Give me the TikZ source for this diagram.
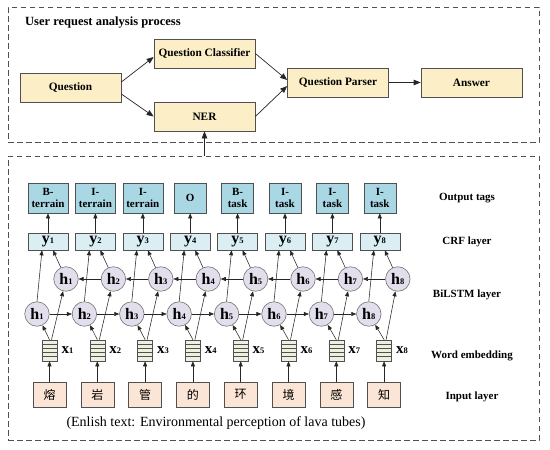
\documentclass[tikz,border=0pt]{standalone}
\usepackage{fontspec}
\setmainfont{Liberation Serif}
\newfontfamily\cjk{Noto Sans CJK SC}
\usetikzlibrary{arrows.meta}
\definecolor{procyellow}{HTML}{FCEFC7}
\definecolor{tagblue}{HTML}{A9D7E3}
\definecolor{ylight}{HTML}{DAEEF3}
\definecolor{hpurple}{HTML}{E2DEEC}
\definecolor{stgreen}{HTML}{EBF1DE}
\definecolor{peach}{HTML}{FBE5D6}
\definecolor{edge}{HTML}{505050}
\begin{document}
\begin{tikzpicture}[x=1pt,y=-1pt,
  frame/.style={draw=edge, dash pattern=on 5.5pt off 3.5pt, line width=0.8pt, minimum width=531pt, inner sep=0pt},
  procbox/.style={draw=edge, fill=procyellow, minimum width=101pt, minimum height=29pt, inner sep=0pt,
    font=\fontsize{11.3}{13}\selectfont\bfseries, line width=0.7pt},
  bigarr/.style={-{Triangle[length=7pt,width=5.5pt]}, line width=0.7pt, draw=black!85},
  arr/.style={-{Triangle[length=5pt,width=4pt]}, line width=0.55pt, draw=black!85},
  tagbox/.style={draw=edge, fill=tagblue, minimum height=30pt, inner sep=0pt, align=center,
    font=\fontsize{11}{12.7}\selectfont\bfseries, line width=0.6pt},
  ybox/.style={draw=edge, fill=ylight, minimum width=40pt, minimum height=17pt, inner sep=0pt,
    font=\fontsize{16}{16}\selectfont\bfseries, line width=0.6pt},
  hnode/.style={circle, draw=black!55, fill=hpurple, minimum size=24.5pt, inner sep=0pt,
    font=\fontsize{16}{16}\selectfont\bfseries, line width=0.6pt},
  stackbox/.style={draw=edge, fill=stgreen, minimum width=15pt, minimum height=21pt, inner sep=0pt, line width=0.6pt},
  inbox/.style={draw=edge, fill=peach, minimum width=33pt, minimum height=25pt, inner sep=0pt,
    font=\cjk\fontsize{12}{12}\selectfont, line width=0.6pt},
  xlab/.style={font=\fontsize{15}{15}\selectfont\bfseries, inner sep=0pt, anchor=west},
  lab/.style={font=\fontsize{11}{13}\selectfont\bfseries}
]
\useasboundingbox (0,0) rectangle (550,450);
\fill[white] (0,0) rectangle (550,450);

% frames
\node[frame, minimum height=135pt] (topframe) at (273.5,74.5) {};
\node[frame, minimum height=284pt] (lowframe) at (273.5,298) {};

% top section
\node[anchor=west, font=\fontsize{12.5}{14}\selectfont\bfseries, inner sep=0pt] (title) at (25,23) {User request analysis process};
\node[procbox] (q) at (70.5,87.5) {Question};
\node[procbox] (qc) at (204.5,53.5) {Question Classifier};
\node[procbox] (ner) at (204.5,116.5) {NER};
\node[procbox] (qp) at (338,82.5) {Question Parser};
\node[procbox] (ans) at (471.5,82.5) {Answer};
\draw[bigarr] ([yshift=5.5pt]q.east) -- ([yshift=-3.5pt]qc.west);
\draw[bigarr] ([yshift=-6.5pt]q.east) -- (ner.west);
\draw[bigarr] (qc.east) -- ([yshift=2.5pt]qp.west);
\draw[bigarr] (ner.east) -- ([yshift=-3.5pt]qp.west);
\draw[bigarr] (qp.east) -- (ans.west);
\coordinate (lowtop) at (lowframe.north -| ner.south);
\draw[bigarr] (lowtop) -- (ner.south);

% output tags
\foreach \i/\t/\w in {1/{B-\\terrain}/40, 2/{I-\\terrain}/40, 3/{I-\\terrain}/40, 4/O/32,
                      5/{B-\\task}/32, 6/{I-\\task}/32, 7/{I-\\task}/32, 8/{I-\\task}/32}{
  \pgfmathsetmacro\cx{48+47.4*(\i-1)}
  \node[tagbox, minimum width=\w pt] (t\i) at (\cx,198) {\t};
}
% layers
\foreach \i/\ch in {1/熔,2/岩,3/管,4/的,5/环,6/境,7/感,8/知}{
  \pgfmathsetmacro\cx{48+47.4*(\i-1)}
  \pgfmathsetmacro\fx{37+47.4*(\i-1)}
  \pgfmathsetmacro\bx{66+47.4*(\i-1)}
  \pgfmathsetmacro\sx{49.5+47.8*(\i-1)}
  \node[ybox] (y\i) at (\cx,241.5) {y{\fontsize{8.5}{8.5}\selectfont\i}};
  \node[hnode] (hb\i) at (\bx,279) {h{\fontsize{8.5}{8.5}\selectfont\i}};
  \node[hnode] (hf\i) at (\fx,314) {h{\fontsize{8.5}{8.5}\selectfont\i}};
  \node[stackbox] (st\i) at (\sx,350.5) {};
  \foreach \k in {1,...,4}{
    \draw[edge, line width=0.5pt] ([yshift=-4.2*\k pt]st\i.north west) -- ([yshift=-4.2*\k pt]st\i.north east);
  }
  \node[xlab] (xl\i) at ([xshift=4pt]st\i.east) {x{\fontsize{8.5}{8.5}\selectfont\i}};
  \node[inbox] (in\i) at (\sx,394.5) {\ch};
}
% connectors
\foreach \i in {1,...,8}{
  \draw[arr] (y\i.north) -- (t\i.south);
  \draw[arr] (hf\i.north) -- ([xshift=-6pt]y\i.south);
  \draw[arr] (hb\i) -- ([xshift=5pt]y\i.south);
  \draw[arr] (st\i.north) -- (hf\i);
  \draw[arr] ([xshift=2pt]st\i.north) -- (hb\i);
  \draw[arr] (in\i.north) -- (st\i.south);
}
\foreach \i in {1,...,7}{
  \pgfmathtruncatemacro\j{\i+1}
  \draw[arr] (hf\i) -- (hf\j);
  \draw[arr] (hb\j) -- (hb\i);
}

% right-hand labels
\node[lab] (lt) at (467,198) {Output tags};
\node[lab] (lc) at (467,242) {CRF layer};
\node[lab] (lb) at (467,295) {BiLSTM layer};
\node[lab] (lw) at (472,356) {Word embedding};
\node[lab] (li) at (472,397) {Input layer};

% caption
\node[font=\fontsize{14}{16}\selectfont] (cap) at (216,423) {(Enlish text: Environmental perception of lava tubes)};
\end{tikzpicture}
\end{document}
